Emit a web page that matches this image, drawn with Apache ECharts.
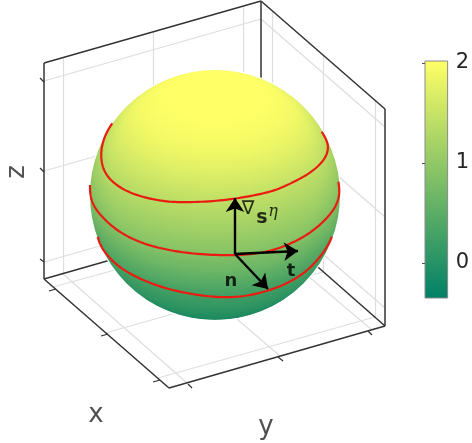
<!DOCTYPE html>
<html>
<head>
<meta charset="utf-8">
<style>
  html, body { margin: 0; padding: 0; background: #fff; }
  /* the reference is a soft upscaled bitmap */
  #chart { width: 472px; height: 443px; filter: blur(0.5px); }
</style>
<script src="https://cdn.jsdelivr.net/npm/echarts@6/dist/echarts.min.js"></script>
</head>
<body>
<div id="chart"></div>
<script>
const boxEdges = [
  [[44, 63], [261, 1]], [[261, 1], [385, 109]], [[44, 63], [44, 279]],
  [[385, 109], [385, 326]], [[261, 1], [261, 217]], [[44, 279], [169, 388]],
  [[169, 388], [385, 326]], [[44, 279], [261, 217]], [[385, 326], [261, 217]],
];
const gridEdges = [
  // left wall
  [[63, 58], [63, 274]], [[153, 32], [153, 247]], [[243, 6], [243, 221]],
  [[44, 81], [261, 19]], [[44, 171], [261, 109]], [[44, 262], [261, 200]],
  // right wall
  [[272, 11], [272, 227]], [[323, 55], [323, 272]], [[375, 100], [375, 317]],
  [[261, 19], [385, 127]], [[261, 109], [385, 217]], [[261, 200], [385, 308]],
  // floor
  [[63, 274], [187, 383]], [[153, 247], [280, 356]], [[243, 221], [372, 330]],
  [[53, 287], [272, 227]], [[105, 333], [323, 272]], [[158, 378], [375, 317]],
];
const tickEdges = [
  [[49, 291], [56, 289]], [[101, 336], [108, 334]], [[153, 382], [160, 380]],
  [[188, 384], [192, 388]], [[278, 357], [283, 361]], [[368, 331], [372, 335]],
  [[40, 78], [44, 82]], [[40, 168], [44, 172]], [[40, 259], [44, 262]],
];
const redTop = [
  [112.3, 123.3], [106.7, 131.7], [102.3, 143.3], [100.7, 155], [102.3, 166.7], [106.7, 175.7], [115, 184.3],
  [128.3, 192.3], [145, 197.7], [161.7, 201], [175, 202.3], [205, 202], [235, 199], [260, 194.3], [276.7, 190],
  [293.3, 182.3], [310, 173.3], [321.7, 163.3], [327.7, 153.3], [328.3, 145], [325.7, 138.3], [321.7, 131.7],
];
const redMiddle = [
  [90, 185], [90, 195], [93.3, 206], [101.7, 216.7], [113.3, 227.7], [128.3, 237.3], [146.7, 245], [175, 251.7],
  [205, 254.8], [235, 255.5], [260, 253.5], [280, 248.3], [300, 239.3], [316.7, 228.3], [330, 215], [337.3, 204],
  [340, 192], [338.3, 181.7],
];
const redBottom = [
  [97.7, 236.7], [100, 245], [106.7, 255], [118.3, 266.7], [135, 276.7], [155, 285], [175, 291], [205, 296.5],
  [235, 298], [260, 293.3], [280, 286.7], [296.7, 278.3], [310, 268.3], [323.3, 253.3], [330, 241.7], [331.7, 236.7],
];
const redCurves = [redTop, redMiddle, redBottom];
const arrows = [
  [[235, 254], [235, 198]], [[235, 254], [298, 251]], [[235, 254], [268, 289]],
];

// sphere colouring: height along the z axis and the colour bar value there
const sphereHeight = [
  -1, -0.84, -0.82, -0.8, -0.78, -0.76, -0.74, -0.72, -0.7, -0.68,
  -0.66, -0.64, -0.62, -0.6, -0.58, -0.56, -0.54, -0.52, -0.5, -0.48,
  -0.46, -0.44, -0.42, -0.4, -0.38, -0.36, -0.34, -0.32, -0.3, -0.28,
  -0.26, -0.24, -0.22, -0.2, -0.18, -0.16, -0.14, -0.12, -0.1, -0.08,
  -0.06, -0.04, -0.02, 0, 0.02, 0.04, 0.06, 0.08, 0.1, 0.12,
  0.14, 0.16, 0.18, 0.2, 0.22, 0.24, 0.26, 0.28, 0.3, 0.32,
  0.34, 0.36, 0.38, 0.4, 0.42, 0.44, 0.46, 0.48, 0.5, 0.52,
  0.54, 0.56, 0.58, 0.6, 0.62, 0.64, 0.66, 0.68, 0.7, 0.72,
  0.74, 0.76, 0.78, 0.8, 0.82, 0.84, 0.86, 0.88, 0.9, 0.92,
];
const sphereValue = [
  -0.17, -0.15, -0.135, -0.12, -0.11, -0.1, -0.08, -0.06, -0.04, -0.02,
  0.005, 0.03, 0.05, 0.07, 0.09, 0.11, 0.13, 0.15, 0.17, 0.19,
  0.215, 0.24, 0.26, 0.28, 0.305, 0.33, 0.36, 0.39, 0.42, 0.45,
  0.475, 0.5, 0.53, 0.56, 0.59, 0.62, 0.65, 0.68, 0.705, 0.73,
  0.76, 0.79, 0.82, 0.85, 0.88, 0.91, 0.935, 0.96, 0.985, 1.01,
  1.035, 1.06, 1.085, 1.11, 1.135, 1.16, 1.185, 1.21, 1.235, 1.26,
  1.285, 1.31, 1.335, 1.36, 1.39, 1.42, 1.45, 1.48, 1.51, 1.54,
  1.57, 1.6, 1.63, 1.66, 1.69, 1.72, 1.75, 1.78, 1.81, 1.84,
  1.865, 1.89, 1.91, 1.93, 1.95, 1.97, 1.985, 2.0, 2.01, 2.02,
];
const colorbarTicks = [0, 1, 2];
const colorbarColors = ["#008066", "#ffff66"];
const colorbarMin = -0.35;
const colorbarMax = 2.02;
const plotLabels = [
  { text: "x", at: [96, 415], size: 26 },
  { text: "y", at: [266, 427], size: 26 },
  { text: "z", at: [17, 172], size: 26, rotate: 90 },
  { text: "∇", at: [248, 209], size: 19 },
  { text: "s", at: [262, 218], size: 19, bold: true },
  { text: "η", at: [273, 212], size: 16, serif: true },
  { text: "n", at: [231, 281], size: 18, bold: true },
  { text: "t", at: [291, 271], size: 18, bold: true },
];

const sphereCenter = [215, 195];
const sphereRadius = 125;
const tilt = (30 * Math.PI) / 180;

// visible part of the sphere above one height, as a closed outline in picture units
function capOutline(h) {
  const [cx, cy] = sphereCenter;
  const R = sphereRadius;
  const r = Math.sqrt(Math.max(0, 1 - h * h));
  const lift = cy - R * h * Math.cos(tilt);
  const pts = [];
  const ring = (t) => [cx + R * r * Math.cos(t), lift + R * r * Math.sin(t) * Math.sin(tilt)];
  const limit = r > 0 ? (-h * Math.tan(tilt)) / r : -2;
  if (limit >= 1) {
    for (let a = 0; a < 360; a += 3) {
      const t = (a * Math.PI) / 180;
      pts.push([cx + R * Math.cos(t), cy + R * Math.sin(t)]);
    }
    return pts;
  }
  if (limit <= -1) {
    for (let a = 0; a < 360; a += 4) pts.push(ring((a * Math.PI) / 180));
    return pts;
  }
  const t0 = Math.asin(limit);
  const steps = 60;
  for (let i = 0; i <= steps; i++) pts.push(ring(t0 + ((Math.PI - 2 * t0) * i) / steps));
  const end = pts[pts.length - 1];
  const start = pts[0];
  let a1 = Math.atan2(end[1] - cy, end[0] - cx);
  const a2 = Math.atan2(start[1] - cy, start[0] - cx);
  if (a1 > 0) a1 -= 2 * Math.PI;
  for (let i = 1; i < steps; i++) {
    const a = a1 + ((a2 - a1) * i) / steps;
    pts.push([cx + R * Math.cos(a), cy + R * Math.sin(a)]);
  }
  return pts;
}

// b-spline stroke through pixel points, evens out the reading noise of the curves
function splinePoints(p) {
  const at = (i) => p[Math.max(0, Math.min(p.length - 1, i))];
  const out = [];
  for (let i = -1; i < p.length; i++) {
    const [a, b, c, d] = [at(i - 1), at(i), at(i + 1), at(i + 2)];
    for (let k = 0; k < 8; k++) {
      const t = k / 8;
      const w = [(1 - t) ** 3 / 6, (3 * t ** 3 - 6 * t ** 2 + 4) / 6, (-3 * t ** 3 + 3 * t ** 2 + 3 * t + 1) / 6, t ** 3 / 6];
      out.push([0, 1].map((n) => w[0] * a[n] + w[1] * b[n] + w[2] * c[n] + w[3] * d[n]));
    }
  }
  return out;
}

const edgeSeries = (edges, color, width, z) => ({
  type: "lines",
  coordinateSystem: "cartesian2d",
  xAxisIndex: 0,
  yAxisIndex: 0,
  silent: true,
  z,
  lineStyle: { color, width, opacity: 1 },
  data: edges.map((coords) => ({ coords })),
});

const myChart = echarts.init(document.getElementById("chart"));

myChart.setOption({
  animation: false,
  backgroundColor: "#fff",
  grid: [
    { left: 0, top: 0, width: 472, height: 443 },
    { left: 425, top: 61, width: 26, height: 237, show: true, z: 6, borderColor: "#8a8a8a", borderWidth: 1, backgroundColor: "transparent" },
  ],
  xAxis: [
    { type: "value", min: 0, max: 472, show: false, gridIndex: 0 },
    { type: "value", min: 0, max: 1, show: false, gridIndex: 1 },
  ],
  yAxis: [
    { type: "value", min: 0, max: 443, inverse: true, show: false, gridIndex: 0 },
    {
      type: "value",
      min: colorbarMin,
      max: colorbarMax,
      gridIndex: 1,
      position: "right",
      z: 7,
      axisLine: { show: false },
      splitLine: { show: false },
      axisTick: { show: true, inside: true, length: 3, customValues: colorbarTicks, lineStyle: { color: "#555" } },
      axisLabel: { customValues: colorbarTicks, margin: 8, fontSize: 21, color: "#262626", fontFamily: "DejaVu Sans" },
    },
  ],
  visualMap: {
    type: "continuous",
    show: false,
    seriesIndex: 3,
    dimension: 1,
    min: colorbarMin,
    max: colorbarMax,
    inRange: { color: colorbarColors },
  },
  series: [
    edgeSeries(gridEdges, "#dedede", 1.2, 1),
    edgeSeries(tickEdges, "#333", 1.2, 2),
    edgeSeries(boxEdges, "#333", 1.5, 2),
    {
      type: "custom",
      xAxisIndex: 0,
      yAxisIndex: 0,
      silent: true,
      z: 3,
      data: sphereHeight.map((h, i) => [h, sphereValue[i]]),
      encode: { x: -1, y: -1 },
      clip: false,
      renderItem(params, api) {
        return {
          type: "polygon",
          shape: { points: capOutline(api.value(0)).map((p) => api.coord(p)) },
          style: { fill: api.visual("color") },
        };
      },
    },
    {
      // darker rim on the sides and underneath, not over the top
      // the thin white ring hides the stacked antialiasing of the caps
      type: "custom",
      xAxisIndex: 0,
      yAxisIndex: 0,
      silent: true,
      z: 4,
      data: [sphereCenter],
      encode: { x: 0, y: 1 },
      clip: false,
      renderItem(params, api) {
        const c = api.coord([api.value(0), api.value(1)]);
        return {
          type: "group",
          children: [
            {
              type: "circle",
              shape: { cx: c[0], cy: c[1], r: sphereRadius },
              style: {
                fill: new echarts.graphic.RadialGradient(0.5, 0.42, 0.58, [
                  { offset: 0.72, color: "rgba(60,130,70,0)" },
                  { offset: 1, color: "rgba(60,130,70,0.16)" },
                ]),
              },
            },
            {
              type: "circle",
              shape: { cx: c[0], cy: c[1], r: sphereRadius + 0.6 },
              style: { fill: null, stroke: "#fff", lineWidth: 1.2 },
            },
          ],
        };
      },
    },
    {
      type: "custom",
      xAxisIndex: 0,
      yAxisIndex: 0,
      silent: true,
      z: 5,
      data: redCurves.map((c, i) => [i]),
      encode: { x: -1, y: -1 },
      clip: false,
      renderItem(params, api) {
        const pts = redCurves[api.value(0)].map((p) => api.coord(p));
        return {
          type: "polyline",
          shape: { points: splinePoints(pts) },
          style: { stroke: "#ea1c12", lineWidth: 2.2, fill: null },
        };
      },
    },
    {
      type: "lines",
      coordinateSystem: "cartesian2d",
      xAxisIndex: 0,
      yAxisIndex: 0,
      silent: true,
      z: 6,
      symbol: ["none", "arrow"],
      symbolSize: 14,
      lineStyle: { color: "#000", width: 2.4, opacity: 1 },
      data: arrows.map((coords) => ({ coords })),
    },
    {
      // colour bar
      type: "custom",
      xAxisIndex: 1,
      yAxisIndex: 1,
      silent: true,
      z: 2,
      data: [[0, colorbarMin, 1, colorbarMax]],
      encode: { x: [0, 2], y: [1, 3] },
      renderItem(params, api) {
        const a = api.coord([api.value(0), api.value(1)]);
        const b = api.coord([api.value(2), api.value(3)]);
        return {
          type: "rect",
          shape: { x: a[0], y: b[1], width: b[0] - a[0], height: a[1] - b[1] },
          style: {
            fill: new echarts.graphic.LinearGradient(0, 1, 0, 0, [
              { offset: 0, color: colorbarColors[0] },
              { offset: 1, color: colorbarColors[1] },
            ]),
          },
        };
      },
    },
    {
      type: "scatter",
      xAxisIndex: 0,
      yAxisIndex: 0,
      symbolSize: 0,
      silent: true,
      z: 7,
      data: plotLabels.map((d) => ({
        value: d.at,
        label: {
          show: true,
          position: "inside",
          formatter: d.text,
          rotate: d.rotate || 0,
          fontSize: d.size,
          fontWeight: d.bold ? "bold" : "normal",
          fontStyle: d.serif ? "italic" : "normal",
          fontFamily: d.serif ? "DejaVu Serif" : "DejaVu Sans",
          color: d.bold || d.serif || d.text === "∇" ? "#000" : "#262626",
        },
      })),
    },
  ],
});

window.addEventListener("resize", myChart.resize);
</script>
</body>
</html>
